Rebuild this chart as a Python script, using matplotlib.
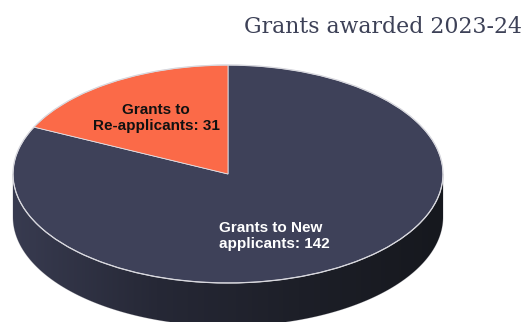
import numpy as np
import matplotlib
matplotlib.use("Agg")
import matplotlib.pyplot as plt
from matplotlib.patches import Wedge, Polygon, Ellipse
from matplotlib.transforms import Affine2D
from matplotlib.colors import LinearSegmentedColormap

# ---- data ----
categories = ["Grants to New applicants", "Grants to Re-applicants"]
values = [142, 31]
label_texts = ["Grants to New\napplicants: 142", "Grants to\nRe-applicants: 31"]
title = "Grants awarded 2023-24"

# ---- style ----
colors = ["#3e4159", "#fb6a48"]
W, H = 531, 322
cx, cy = 228, H - 174
rx, ry = 215, 109
depth = 43

fig = plt.figure(figsize=(W / 100, H / 100), dpi=100)
ax = fig.add_axes([0, 0, 1, 1])
ax.set_xlim(0, W)
ax.set_ylim(0, H)
ax.axis("off")

ell = Affine2D().scale(rx, ry).translate(cx, cy) + ax.transData

# side (front half of cylinder)
t = np.linspace(np.pi, 2 * np.pi, 200)
top_x = cx + rx * np.cos(t)
top_y = cy + ry * np.sin(t)
bot_x = top_x[::-1]
bot_y = top_y[::-1] - depth
side_pts = np.column_stack([np.concatenate([top_x, bot_x]), np.concatenate([top_y, bot_y])])
side = Polygon(side_pts, closed=True, facecolor="none", edgecolor="#c8c8cc", lw=0.6, zorder=1)
ax.add_patch(side)
cmap = LinearSegmentedColormap.from_list("side", ["#383b50", "#262836", "#1d1f28", "#16181e"])
grad = np.linspace(0, 1, 256).reshape(1, -1)
im = ax.imshow(grad, cmap=cmap, extent=[cx - rx, cx + rx, cy - ry - depth, cy], aspect="auto", zorder=1)
im.set_clip_path(side)

# top wedges: start at 12 o'clock, New goes clockwise, Re-applicants counter-clockwise
total = sum(values)
angles = [v / total * 360 for v in values]
re_wedge = Wedge((0, 0), 1, 90, 90 + angles[1], facecolor=colors[1], edgecolor="#e0e0e6",
                 lw=0.6, transform=ell, zorder=2)
new_wedge = Wedge((0, 0), 1, 90 + angles[1], 90 + 360, facecolor=colors[0], edgecolor="#e0e0e6",
                  lw=0.6, transform=ell, zorder=2)
ax.add_patch(new_wedge)
ax.add_patch(re_wedge)
ax.add_patch(Ellipse((0, 0), 2, 2, facecolor="none", edgecolor="#d8d8de", lw=0.9,
                     transform=ell, zorder=3))

# labels
ax.text(156, H - 118, label_texts[1], ha="center", va="center", multialignment="center",
        fontsize=11, fontweight="bold", family="Liberation Sans", color="#111111",
        linespacing=1.15, zorder=4)
ax.text(219, H - 236, label_texts[0], ha="left", va="center", multialignment="left",
        fontsize=11, fontweight="bold", family="Liberation Sans", color="#ffffff",
        linespacing=1.15, zorder=4)

ax.text(522, H - 33, title, ha="right", va="baseline", fontsize=15.8,
        family="DejaVu Serif", color="#3d4157")

fig.savefig("out.png", dpi=100)
